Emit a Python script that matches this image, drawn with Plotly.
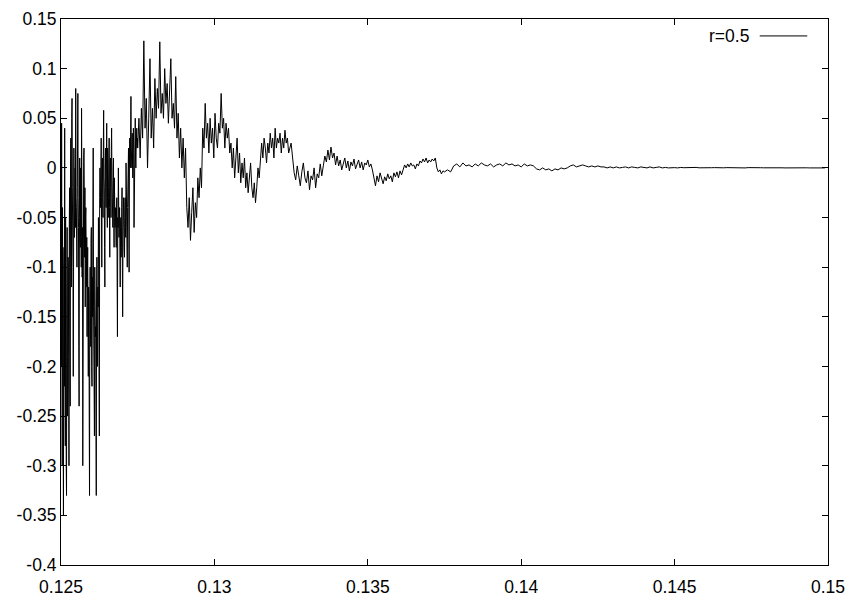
import numpy as np
import plotly.graph_objects as go

# ---- data ----
# segment 1: x 0.125 .. 0.1275
seg1_range = (0.125, 0.1275)
seg1_y = [
    -0.05, -0.2, 0.045, -0.15, -0.30, -0.04, -0.12, -0.26, -0.35, -0.10, -0.08, -0.22, 0.04, -0.18, -0.28, -0.05, -0.15, -0.30, -0.33, -0.12, -0.06, -0.25, -0.22, -0.09,
    -0.10, -0.19, -0.30, -0.06, -0.02, -0.15, -0.24, 0.0, 0.03, -0.06, -0.12, 0.05, 0.07, -0.02, -0.05, -0.10, -0.21, 0.0, 0.02, -0.04, -0.07, -0.01, 0.0, -0.06, 0.08, -0.03, -0.04, -0.08, -0.10,
    -0.02, 0.01, 0.075, -0.03, -0.06, -0.18, -0.24, -0.05, 0.01, -0.07, -0.08, 0.0, -0.03, -0.10, 0.06, -0.02, -0.11, -0.06, -0.30, -0.08, -0.05, 0.01, 0.02, -0.07, -0.09, -0.02, -0.14, -0.05, -0.04, -0.10, -0.12, -0.07,
    -0.17, -0.11, -0.08, -0.19, -0.21, -0.12, -0.13, -0.25, -0.33, -0.14, -0.10, -0.16, -0.18, -0.07, -0.06, -0.20, -0.22, -0.11, -0.15, -0.05, 0.02, -0.14, -0.19, -0.23, -0.27, -0.10, -0.12, -0.17, -0.16, -0.26, -0.33, -0.13, -0.09, -0.18, -0.20, -0.12,
    -0.14, -0.05, -0.07, -0.20, -0.27, -0.03, 0.0,
    -0.02, -0.04, 0.01, 0.03, -0.05, -0.10, -0.01, 0.01, -0.03, -0.05, 0.02, 0.058, -0.01, -0.02, -0.08, -0.12, 0.0, 0.02, -0.02, -0.04, 0.01, 0.045, -0.03, -0.06, 0.02, 0.0, -0.05, -0.03, 0.01, 0.03, -0.04, -0.09, 0.0, 0.01, -0.02, -0.05, 0.02, 0.04, -0.01, -0.02, -0.04, -0.06, 0.0, 0.01, -0.05, -0.08, -0.01, -0.03, -0.06, -0.04,
    -0.05, -0.07, -0.08, -0.04, -0.03, -0.11, -0.17, -0.05, -0.06, 0.0, -0.03, -0.07, -0.05, -0.04, -0.08, -0.12, -0.06, -0.05, -0.09, -0.08, -0.04, -0.02, -0.10, -0.15, -0.07, -0.06, -0.03, -0.04, -0.08, -0.09, -0.05, -0.03, -0.06, -0.07, 0.005, -0.02, -0.06, -0.08, -0.10, -0.04, -0.02,
    0.0, 0.02, -0.04, -0.105, 0.0, 0.03, 0.01, 0.0, 0.04, 0.072, 0.02, 0.01, 0.0, 0.035, 0.02, -0.01, 0.01, 0.04, 0.02, -0.06, -0.02, 0.02, 0.03, 0.05, 0.01, 0.0, 0.02, 0.03, 0.04, 0.02, 0.03,
]
# segment 2: x 0.1275 .. 0.1325
seg2_range = (0.1275, 0.1325)
seg2_y = [
    0.02, 0.05, 0.01, 0.06, 0.03,
    0.128, 0.04, 0.07, 0.0, 0.05, 0.11, 0.03, 0.06, 0.02, 0.09,
    0.05, 0.08, 0.06, 0.127, 0.055, 0.075, 0.05, 0.10, 0.065, 0.085, 0.045, 0.07, 0.11, 0.05, 0.065,
    0.04, 0.092, 0.03, 0.055, 0.01, 0.04, 0.0, 0.03, -0.01, 0.02,
    -0.04, -0.06, -0.03, -0.073, -0.045, -0.02, -0.065, -0.035, -0.05, -0.01, -0.03, 0.0, -0.02,
    0.04, 0.02, 0.065, 0.03, 0.045, 0.015, 0.05, 0.025, 0.04, 0.01, 0.055, 0.03, 0.02, 0.045, 0.035, 0.075, 0.04, 0.05, 0.02, 0.045, 0.03, 0.04, 0.015, 0.025,
    0.0, 0.02, -0.01, 0.01, 0.03, -0.005, 0.015, -0.015, 0.005, -0.01, 0.01, -0.02, -0.005, -0.025, -0.01, 0.005, -0.02, -0.03, -0.015, -0.035, -0.02, 0.0, -0.01,
    0.015, 0.025, 0.01, 0.03, 0.02, 0.005, 0.025, 0.015, 0.035, 0.02, 0.03, 0.01, 0.04, 0.02, 0.03, 0.025, 0.035, 0.015, 0.03, 0.02, 0.038, 0.025, 0.03, 0.015, 0.02,
]
# segment 3: x 0.1325 .. 0.1375
seg3_range = (0.1325, 0.1375)
seg3_y = [
    0.025, 0.01, -0.005, -0.012, 0.002, -0.008, -0.018, -0.004, 0.005, -0.01, -0.015, -0.003, -0.022, -0.008, -0.012, 0.0, -0.02, -0.006, -0.01, 0.004, -0.008, 0.002,
    0.012, 0.006, 0.018, 0.008, 0.021, 0.01, 0.015, 0.003, 0.012, 0.002,
    0.008, -0.002, 0.005, 0.01, 0.0, 0.007, -0.003, 0.006, 0.002, 0.009, -0.001, 0.004, 0.008, 0.0, 0.006, -0.002, 0.005, 0.003, 0.008, 0.001, 0.004, -0.002,
    -0.012, -0.018, -0.008, -0.014, -0.005, -0.012, -0.016, -0.009, -0.013, -0.006, -0.011, -0.008, -0.014, -0.005, -0.009, -0.004, -0.01, -0.003, -0.007, -0.002,
    0.003, 0.0, 0.004, 0.001, 0.005, 0.002, 0.003, -0.001, 0.004, 0.002,
    0.007, 0.005, 0.009, 0.006, 0.01, 0.005, 0.008, 0.006, 0.009, 0.007, 0.01,
    0.0, -0.004, -0.002, -0.006, -0.003,
]
# segment 4: x 0.1375 .. 0.15
seg4_range = (0.1375, 0.15)
seg4_y = [
    -0.004, -0.002, -0.004,
    0.002, 0.004, 0.001, 0.005, 0.002, 0.003, 0.001, 0.004, 0.002, 0.005, 0.003, 0.002, 0.004, 0.001, 0.003, 0.004, 0.002, 0.005, 0.003, 0.004, 0.002, 0.003, 0.001, 0.004, 0.002, 0.003, 0.002,
    -0.001, -0.002, 0.0, -0.002, -0.001, -0.003, -0.001, -0.002, 0.0, -0.001, 0.0,
    0.002, 0.003, 0.001, 0.002, 0.003, 0.002, 0.001, 0.002, 0.001, 0.002, 0.001, 0.001,
    0.0, 0.001, 0.0, 0.001, 0.0, 0.0005, 0.001, 0.0, 0.001, 0.0005, 0.0, 0.001, 0.0005, 0.0, 0.001, 0.0, 0.0005, 0.001, 0.0, 0.0005, 0.0, 0.0005,
    0.0003, 0.0, 0.0005, 0.0002, 0.0004, 0.0, 0.0003, 0.0005, 0.0001, 0.0003, 0.0, 0.0004, 0.0002, 0.0003, 0.0, 0.0004, 0.0001, 0.0003, 0.0002, 0.0,
    0.0003, 0.0001, 0.0002, 0.0, 0.0003, 0.0001, 0.0002, 0.0, 0.0002, 0.0001, 0.0002, 0.0, 0.0001, 0.0002, 0.0, 0.0001, 0.0, 0.0001, 0.0, 0.0001,
    0.0, 0.0001, 0.0, 0.0001, 0.0, 0.0, 0.0001, 0.0, 0.0, 0.0,
]
series_name = "r=0.5"
x_ticks = [0.125, 0.13, 0.135, 0.14, 0.145, 0.15]
x_ticklabels = ["0.125", "0.13", "0.135", "0.14", "0.145", "0.15"]
y_ticks = [-0.4, -0.35, -0.3, -0.25, -0.2, -0.15, -0.1, -0.05, 0, 0.05, 0.1, 0.15]
y_ticklabels = ["-0.4", "-0.35", "-0.3", "-0.25", "-0.2", "-0.15", "-0.1", "-0.05", "0", "0.05", "0.1", "0.15"]

# ---- build arrays (uniform sample grid inside each segment) ----
xs, ys = [], []
for (a, b), vals in [(seg1_range, seg1_y), (seg2_range, seg2_y),
                     (seg3_range, seg3_y), (seg4_range, seg4_y)]:
    xs.extend(np.linspace(a, b, len(vals), endpoint=False))
    ys.extend(vals)

fig = go.Figure()
fig.add_trace(go.Scatter(x=xs, y=ys, mode="lines", name=series_name,
                         line=dict(color="black", width=1), showlegend=False))

font = dict(family="Liberation Sans, Arial, sans-serif", size=17.5, color="black")
axis_common = dict(showline=True, linecolor="black", linewidth=1, mirror="ticks",
                   ticks="inside", ticklen=6, tickcolor="black", tickwidth=1,
                   showgrid=False, zeroline=False, tickfont=font, automargin=False)
fig.update_xaxes(range=[0.125, 0.15], tickvals=x_ticks, ticktext=x_ticklabels,
                 ticklabelstandoff=6, **axis_common)
fig.update_yaxes(range=[-0.4, 0.15], tickvals=y_ticks, ticktext=y_ticklabels, **axis_common)

# gnuplot-style key: text followed by line sample
fig.add_annotation(xref="paper", yref="paper", x=0.899, y=0.969, xanchor="right", yanchor="middle",
                   text=series_name, showarrow=False, font=font)
fig.add_shape(type="line", xref="paper", yref="paper", x0=0.911, x1=0.973, y0=0.969, y1=0.969,
              line=dict(color="black", width=1))

fig.update_layout(width=850, height=597, margin=dict(l=61, r=22, t=19, b=32),
                  plot_bgcolor="white", paper_bgcolor="white", font=font)
fig.write_html("out.html")
